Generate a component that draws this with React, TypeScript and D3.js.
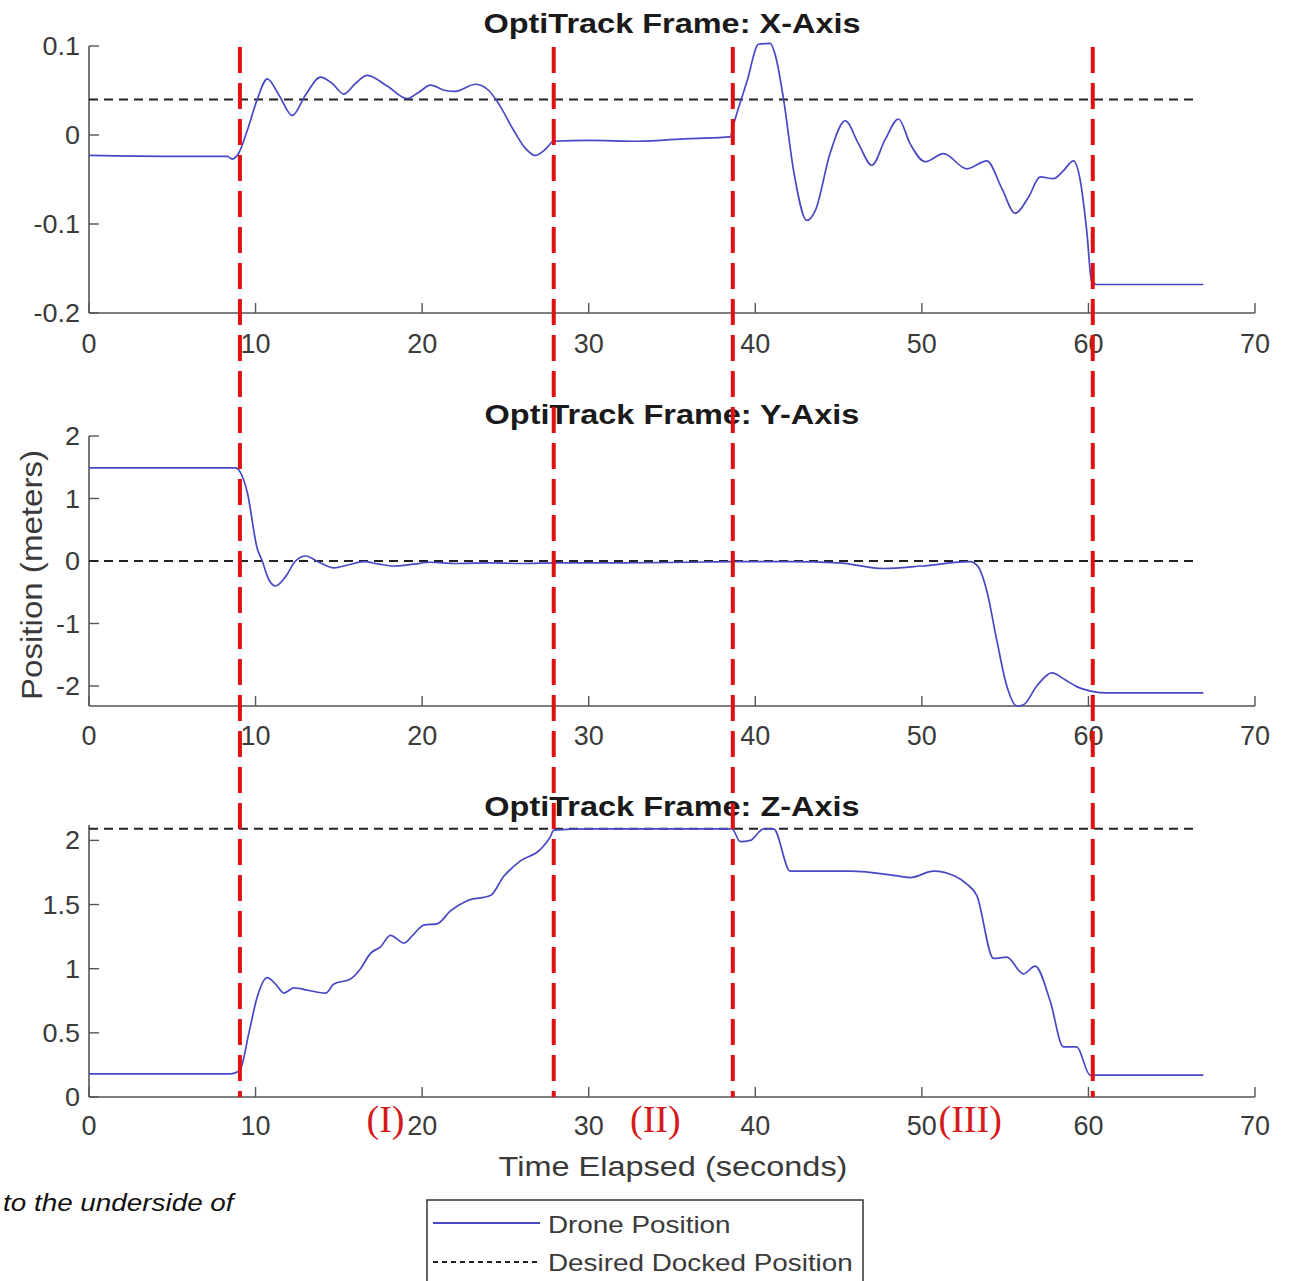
import React from "react";
import * as d3 from "d3";

// ---------- data ----------
const xTicks = [0, 10, 20, 30, 40, 50, 60, 70];

const tX = [0, 5, 8.3, 8.6, 9.0, 9.5, 10.1, 10.7, 11.4, 12.2, 13.0, 13.9, 14.6, 15.3, 16.0, 16.7, 17.9, 19.1, 19.8, 20.5, 21.4, 22.0, 23.2, 24.0, 24.6, 25.5, 26.2, 26.8, 27.4, 27.9, 30, 33, 36, 38.5, 38.7, 39.5, 40.2, 40.9, 41.2, 41.7, 42.3, 43.1, 43.6, 44.5, 45.4, 46.2, 47.0, 47.8, 48.6, 49.3, 50.2, 51.3, 52.7, 53.9, 54.8, 55.6, 56.4, 57.1, 57.9, 58.5, 59.1, 59.5, 59.9, 60.2, 60.5, 63, 66.9];
const posX = [-0.023, -0.024, -0.024, -0.027, -0.02, 0.005, 0.04, 0.063, 0.045, 0.022, 0.045, 0.065, 0.058, 0.046, 0.058, 0.067, 0.055, 0.041, 0.048, 0.056, 0.05, 0.049, 0.057, 0.05, 0.035, 0.005, -0.015, -0.023, -0.016, -0.007, -0.006, -0.007, -0.004, -0.002, 0.012, 0.06, 0.102, 0.103, 0.09, 0.04, -0.04, -0.096, -0.085, -0.02, 0.016, -0.01, -0.034, -0.005, 0.018, -0.01, -0.03, -0.021, -0.038, -0.029, -0.06, -0.088, -0.07, -0.047, -0.049, -0.04, -0.029, -0.05, -0.108, -0.165, -0.168, -0.168, -0.168];

const tY = [0, 8.8, 9.06, 9.5, 10.1, 10.4, 10.8, 11.2, 11.8, 12.4, 13.0, 13.8, 14.7, 15.6, 16.5, 17.4, 18.3, 19.5, 20.5, 22, 24, 26, 28, 32, 36, 38.7, 42, 45, 47.7, 50, 52.9, 53.4, 53.9, 54.5, 55.1, 55.7, 56.1, 56.9, 57.8, 58.6, 59.3, 60.3, 61, 66.9];
const posY = [1.49, 1.49, 1.43, 1.1, 0.2, 0.0, -0.3, -0.4, -0.25, 0.0, 0.08, -0.02, -0.11, -0.06, -0.01, -0.05, -0.08, -0.05, -0.02, -0.04, -0.03, -0.04, -0.03, -0.03, -0.02, -0.01, -0.01, -0.03, -0.12, -0.08, -0.01, -0.1, -0.48, -1.27, -2.0, -2.32, -2.3, -2.0, -1.79, -1.9, -2.01, -2.09, -2.11, -2.11];

const tZ = [0, 8.5, 9.06, 9.6, 10.1, 10.7, 11.2, 11.7, 12.3, 13.2, 14.2, 14.7, 15.7, 16.3, 16.9, 17.5, 18.1, 18.9, 19.5, 20.1, 20.9, 21.7, 22.7, 24.1, 24.9, 25.9, 27.1, 27.7, 27.9, 30, 35, 38.6, 39.1, 39.7, 40.5, 41.1, 42.1, 43.7, 45.7, 48.7, 49.3, 50.7, 52.0, 52.7, 53.3, 54.3, 55.1, 56.1, 56.8, 57.7, 58.5, 59.3, 60.1, 60.5, 66.9];
const posZ = [0.18, 0.18, 0.21, 0.5, 0.78, 0.93, 0.88, 0.81, 0.85, 0.83, 0.81, 0.88, 0.92, 1.0, 1.12, 1.17, 1.26, 1.2, 1.27, 1.34, 1.35, 1.45, 1.53, 1.57, 1.72, 1.84, 1.93, 2.03, 2.08, 2.09, 2.09, 2.09, 1.99, 2.0, 2.09, 2.09, 1.76, 1.76, 1.76, 1.72, 1.71, 1.76, 1.72, 1.66, 1.57, 1.08, 1.09, 0.96, 1.02, 0.75, 0.39, 0.39, 0.17, 0.17, 0.17];

const desired = [0.04, 0, 2.09];
const desiredEnd = 66.6;
const phaseBounds = [9.06, 27.9, 38.65, 60.26];
const phaseLabels = ["(I)", "(II)", "(III)"];
const phaseLabelX = [17.8, 34.0, 52.9];

const titles = ["OptiTrack Frame: X-Axis", "OptiTrack Frame: Y-Axis", "OptiTrack Frame: Z-Axis"];
const yTicksX = [-0.2, -0.1, 0, 0.1];
const yTicksY = [-2, -1, 0, 1, 2];
const yTicksZ = [0, 0.5, 1, 1.5, 2];
const yTickLabelsX = ["-0.2", "-0.1", "0", "0.1"];
const yTickLabelsY = ["-2", "-1", "0", "1", "2"];
const yTickLabelsZ = ["0", "0.5", "1", "1.5", "2"];
const legendLabels = ["Drone Position", "Desired Docked Position"];

// ---------- layout ----------
const W = 1302, H = 1281;
const xLeft = 89, xRight = 1255;
const panels = [
  { top: 46, bottom: 313, domain: [-0.2, 0.1], t: tX, v: posX, ticks: yTicksX, labels: yTickLabelsX, titleY: 33, xlabY: 353 },
  { top: 436, bottom: 706, domain: [-2.32, 2], t: tY, v: posY, ticks: yTicksY, labels: yTickLabelsY, titleY: 424, xlabY: 745 },
  { top: 825, bottom: 1097, domain: [0, 2.12], t: tZ, v: posZ, ticks: yTicksZ, labels: yTickLabelsZ, titleY: 816, xlabY: 1135 },
];

const SANS = "'Liberation Sans', Arial, Helvetica, sans-serif";
const SERIF = "'Liberation Serif', 'Times New Roman', serif";
const AXIS = "#555555";
const TXT = "#3a3a3a";
const BLUE = "#4848c4";
const RED = "#e01010";

function T({ x, y, children, anchor = "middle", size = 26, sx = 1, weight = "normal", family = SANS, fill = TXT, italic = false }: any) {
  return (
    <text
      transform={`translate(${x},${y}) scale(${sx},1)`}
      textAnchor={anchor}
      fontSize={size}
      fontWeight={weight}
      fontFamily={family}
      fontStyle={italic ? "italic" : "normal"}
      fill={fill}
    >
      {children}
    </text>
  );
}

export default function App() {
  const x = d3.scaleLinear().domain([0, 70]).range([xLeft, xRight]);

  return (
    <svg width={W} height={H} style={{ position: "absolute", left: 0, top: 0, background: "#fff" }}>
      <rect x={0} y={0} width={W} height={H} fill="#fff" />
      {panels.map((p, i) => {
        const y = d3.scaleLinear().domain(p.domain).range([p.bottom, p.top]);
        const line = d3
          .line<number>()
          .x((_, k) => x(p.t[k]))
          .y((d) => y(d))
          .curve(d3.curveMonotoneX);
        return (
          <g key={i}>
            {/* axes */}
            <line x1={xLeft} x2={xLeft} y1={p.top} y2={p.bottom} stroke={AXIS} strokeWidth={1.6} />
            <line x1={xLeft} x2={xRight} y1={p.bottom} y2={p.bottom} stroke={AXIS} strokeWidth={1.6} />
            {xTicks.map((t) => (
              <g key={t}>
                <line x1={x(t)} x2={x(t)} y1={p.bottom} y2={p.bottom - 10} stroke={AXIS} strokeWidth={1.4} />
                <T x={x(t)} y={p.xlabY} size={27} sx={1.0}>{String(t)}</T>
              </g>
            ))}
            {p.ticks.map((t, k) => (
              <g key={k}>
                <line x1={xLeft} x2={xLeft + 10} y1={y(t)} y2={y(t)} stroke={AXIS} strokeWidth={1.4} />
                <T x={80} y={y(t) + 9} size={25} sx={1.08} anchor="end">{p.labels[k]}</T>
              </g>
            ))}
            {/* desired */}
            <line
              x1={x(0)}
              x2={x(desiredEnd)}
              y1={y(desired[i])}
              y2={y(desired[i])}
              stroke="#222"
              strokeWidth={2}
              strokeDasharray="9,6"
            />
            {/* drone */}
            <path d={line(p.v) || ""} fill="none" stroke={BLUE} strokeWidth={1.7} />
            {/* title */}
            <T x={(xLeft + xRight) / 2} y={p.titleY} size={28} sx={1.16} weight="bold" fill="#1a1a1a">{titles[i]}</T>
          </g>
        );
      })}

      {/* y label */}
      <text
        transform="translate(42,575) rotate(-90)"
        textAnchor="middle"
        fontSize={30}
        fontFamily={SANS}
        fill={TXT}
        textLength={250}
        lengthAdjust="spacingAndGlyphs"
      >
        Position (meters)
      </text>

      {/* x label */}
      <T x={673} y={1176} size={28} sx={1.16}>Time Elapsed (seconds)</T>

      {/* phase boundaries */}
      {phaseBounds.map((b, k) => (
        <line key={k} x1={x(b)} x2={x(b)} y1={panels[0].top + 1} y2={panels[2].bottom} stroke={RED} strokeWidth={4} strokeDasharray="26,10" />
      ))}
      {phaseLabels.map((l, k) => (
        <T key={k} x={x(phaseLabelX[k])} y={1132} size={38} family={SERIF} fill="#d41a1a">{l}</T>
      ))}

      {/* caption fragment */}
      <T x={3} y={1211} size={24} sx={1.16} anchor="start" italic fill="#111">to the underside of</T>

      {/* legend */}
      <rect x={427} y={1200} width={436} height={100} fill="#fff" stroke="#333" strokeWidth={1.5} />
      <line x1={433} x2={540} y1={1223} y2={1223} stroke={BLUE} strokeWidth={2} />
      <line x1={433} x2={540} y1={1262} y2={1262} stroke="#222" strokeWidth={2} strokeDasharray="5,4" />
      <T x={548} y={1233} size={24} sx={1.16} anchor="start">{legendLabels[0]}</T>
      <T x={548} y={1271} size={24} sx={1.16} anchor="start">{legendLabels[1]}</T>
    </svg>
  );
}
